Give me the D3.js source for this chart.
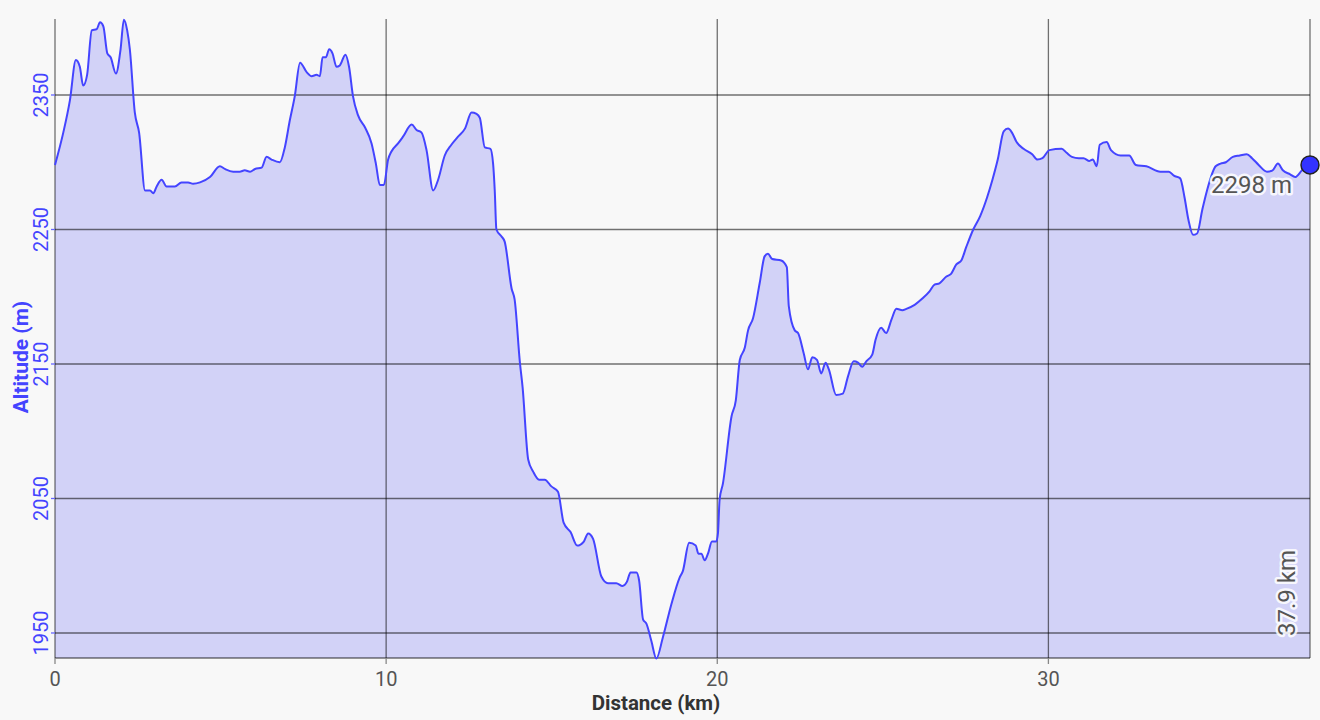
<!DOCTYPE html>
<html><head><meta charset="utf-8">
<script src="https://cdn.jsdelivr.net/npm/d3@7/dist/d3.min.js"></script>
<style>
html,body{margin:0;padding:0;background:#f8f8f8;}
svg{display:block;font-family:Roboto, "Noto Sans", sans-serif;}
</style></head>
<body>
<svg id="c" width="1320" height="720"></svg>
<script>
// Distance (km)
const distance = [0.00,0.25,0.45,0.63,0.75,0.85,0.97,1.11,1.26,1.36,1.46,1.58,1.68,1.84,1.98,2.08,2.18,2.26,2.41,2.54,
2.72,2.87,2.97,3.07,3.22,3.37,3.62,3.82,4.02,4.17,4.38,4.68,4.98,5.13,5.38,5.58,5.73,5.89,6.04,6.24,
6.39,6.54,6.79,6.94,7.09,7.24,7.40,7.60,7.75,7.90,8.00,8.08,8.18,8.28,8.38,8.50,8.60,8.77,8.88,9.00,
9.15,9.36,9.56,9.69,9.81,9.93,10.06,10.16,10.36,10.51,10.77,10.92,11.07,11.22,11.42,11.57,11.77,11.97,12.17,12.38,
12.58,12.73,12.83,12.98,13.15,13.23,13.28,13.33,13.48,13.58,13.79,13.88,14.04,14.12,14.29,14.44,14.62,14.79,14.99,15.19,
15.36,15.57,15.77,15.97,16.10,16.25,16.50,16.70,16.95,17.14,17.27,17.38,17.56,17.64,17.76,17.86,18.01,18.16,18.36,18.61,
18.86,18.96,19.15,19.35,19.43,19.52,19.62,19.72,19.84,19.97,20.02,20.07,20.17,20.43,20.56,20.68,20.83,20.93,21.08,21.28,
21.43,21.53,21.66,21.93,22.10,22.16,22.34,22.44,22.61,22.74,22.87,23.01,23.14,23.27,23.37,23.59,23.79,23.95,24.12,24.25,
24.38,24.50,24.68,24.78,24.95,25.10,25.26,25.41,25.59,25.71,25.96,26.21,26.41,26.56,26.71,26.92,27.06,27.22,27.37,27.52,
27.73,27.94,28.15,28.31,28.47,28.65,28.78,28.90,29.04,29.25,29.51,29.67,29.82,30.03,30.40,30.55,30.71,30.92,31.06,31.24,
31.34,31.46,31.55,31.76,31.89,32.18,32.44,32.64,32.96,33.38,33.64,33.79,33.98,34.11,34.23,34.37,34.49,34.65,34.79,35.05,
35.20,35.36,35.57,35.78,35.99,36.15,36.35,36.60,36.77,36.93,37.08,37.30,37.45,37.66,37.90];
// Altitude (m)
const altitude = [2298,2322,2346,2376,2371,2357,2365,2398,2399,2404,2401,2381,2378,2366,2384,2406,2398,2384,2337,2322,
2279,2279,2277,2282,2287,2282,2282,2285,2285,2284,2285,2289,2297,2295,2293,2293,2294,2293,2295,2296,
2304,2302,2300,2311,2331,2349,2374,2367,2364,2365,2364,2378,2378,2384,2381,2371,2372,2380,2371,2349,
2335,2326,2314,2299,2283,2283,2302,2308,2314,2319,2328,2324,2322,2309,2279,2287,2305,2313,2319,2325,
2337,2336,2333,2311,2310,2299,2279,2250,2245,2241,2206,2198,2151,2133,2079,2070,2064,2064,2059,2055,
2032,2025,2015,2018,2024,2020,1992,1987,1987,1985,1988,1995,1995,1989,1960,1957,1944,1931,1947,1971,
1991,1996,2017,2015,2009,2009,2004,2009,2018,2018,2024,2049,2061,2111,2123,2153,2162,2175,2184,2210,
2230,2232,2228,2227,2222,2193,2175,2173,2158,2146,2155,2153,2143,2151,2146,2127,2128,2141,2152,2151,
2148,2152,2157,2168,2177,2173,2183,2191,2190,2191,2194,2199,2204,2209,2210,2215,2217,2224,2227,2237,
2250,2260,2274,2287,2302,2323,2325,2322,2315,2310,2306,2302,2303,2309,2310,2307,2304,2303,2303,2301,
2302,2297,2313,2315,2309,2305,2305,2298,2297,2293,2293,2290,2288,2274,2257,2246,2247,2265,2279,2297,
2299,2300,2304,2305,2306,2303,2298,2293,2294,2299,2294,2291,2289,2294,2298];
const xTicks = [0,10,20,30];
const yTicks = [1950,2050,2150,2250,2350];
const xDomain = [0,37.9];
const yDomain = [1931.4,2406.5];
const xTitle = "Distance (km)";
const yTitle = "Altitude (m)";
const endAltLabel = "2298 m";
const endDistLabel = "37.9 km";

const data = distance.map((d,i)=>({d, a: altitude[i]}));
const L=55, R=1310, T=19, B=658;
const svg = d3.select("#c");
svg.append("rect").attr("width",1320).attr("height",720).attr("fill","#f8f8f8");
const x = d3.scaleLinear().domain(xDomain).range([L,R]);
const y = d3.scaleLinear().domain(yDomain).range([B,T]);

const area = d3.area().x(p=>x(p.d)).y0(B).y1(p=>y(p.a)).curve(d3.curveMonotoneX);
const line = d3.line().x(p=>x(p.d)).y(p=>y(p.a)).curve(d3.curveMonotoneX);

svg.append("path").datum(data).attr("d",area).attr("fill","#d2d2f7");

const gridC = "rgba(0,0,0,0.55)";
svg.append("g").selectAll("line").data(yTicks).join("line")
  .attr("x1",L).attr("x2",R).attr("y1",d=>y(d)).attr("y2",d=>y(d))
  .attr("stroke",gridC).attr("stroke-width",1.3);
svg.append("g").selectAll("line").data(xTicks.filter(v=>v>0)).join("line")
  .attr("x1",d=>x(d)).attr("x2",d=>x(d)).attr("y1",T).attr("y2",B)
  .attr("stroke",gridC).attr("stroke-width",1.3);
svg.append("line").attr("x1",L).attr("x2",L).attr("y1",T).attr("y2",B).attr("stroke",gridC).attr("stroke-width",1.3);
svg.append("line").attr("x1",R).attr("x2",R).attr("y1",T).attr("y2",B).attr("stroke",gridC).attr("stroke-width",1.3);
svg.append("line").attr("x1",L).attr("x2",R).attr("y1",B).attr("y2",B).attr("stroke",gridC).attr("stroke-width",1.3);

svg.append("path").datum(data).attr("d",line).attr("fill","none")
  .attr("stroke","#4444ff").attr("stroke-width",2).attr("stroke-linejoin","round");

const xg = svg.append("g");
xg.selectAll("line").data(xTicks).join("line")
  .attr("x1",d=>x(d)).attr("x2",d=>x(d)).attr("y1",B).attr("y2",B+6)
  .attr("stroke","#888").attr("stroke-width",1.3);
xg.selectAll("text").data(xTicks).join("text")
  .attr("x",d=>x(d)).attr("y",686).attr("text-anchor","middle")
  .attr("font-size",20).attr("fill","#555").text(d=>d);
const yg = svg.append("g");
yg.selectAll("line").data(yTicks).join("line")
  .attr("x1",L-4).attr("x2",L).attr("y1",d=>y(d)).attr("y2",d=>y(d))
  .attr("stroke","#6666ff").attr("stroke-width",1.3);
yg.selectAll("text").data(yTicks).join("text")
  .attr("transform",d=>`translate(48,${y(d)}) rotate(-90)`)
  .attr("text-anchor","middle").attr("font-size",20).attr("fill","#4444ff").text(d=>d);

svg.append("text").attr("x",656).attr("y",710).attr("text-anchor","middle")
  .attr("font-size",20.5).attr("font-weight","bold").attr("fill","#333").text(xTitle);
svg.append("text").attr("transform","translate(28,357) rotate(-90)").attr("text-anchor","middle")
  .attr("font-size",21).attr("font-weight","bold").attr("fill","#4444ff").text(yTitle);

const last = data[data.length-1];
svg.append("circle").attr("cx",x(last.d)).attr("cy",y(last.a)).attr("r",9)
  .attr("fill","#3333ff").attr("stroke","#222").attr("stroke-width",1.5);
svg.append("text").attr("x",x(last.d)-18).attr("y",y(last.a)+28).attr("text-anchor","end")
  .attr("font-size",24).attr("fill","#555")
  .attr("stroke","rgba(255,255,255,0.85)").attr("stroke-width",5).attr("paint-order","stroke")
  .attr("stroke-linejoin","round").text(endAltLabel);
svg.append("text").attr("transform",`translate(${x(last.d)-15},${B-22}) rotate(-90)`).attr("text-anchor","start")
  .attr("font-size",24).attr("fill","#555")
  .attr("stroke","rgba(255,255,255,0.85)").attr("stroke-width",5).attr("paint-order","stroke")
  .attr("stroke-linejoin","round").text(endDistLabel);
</script>
</body></html>
